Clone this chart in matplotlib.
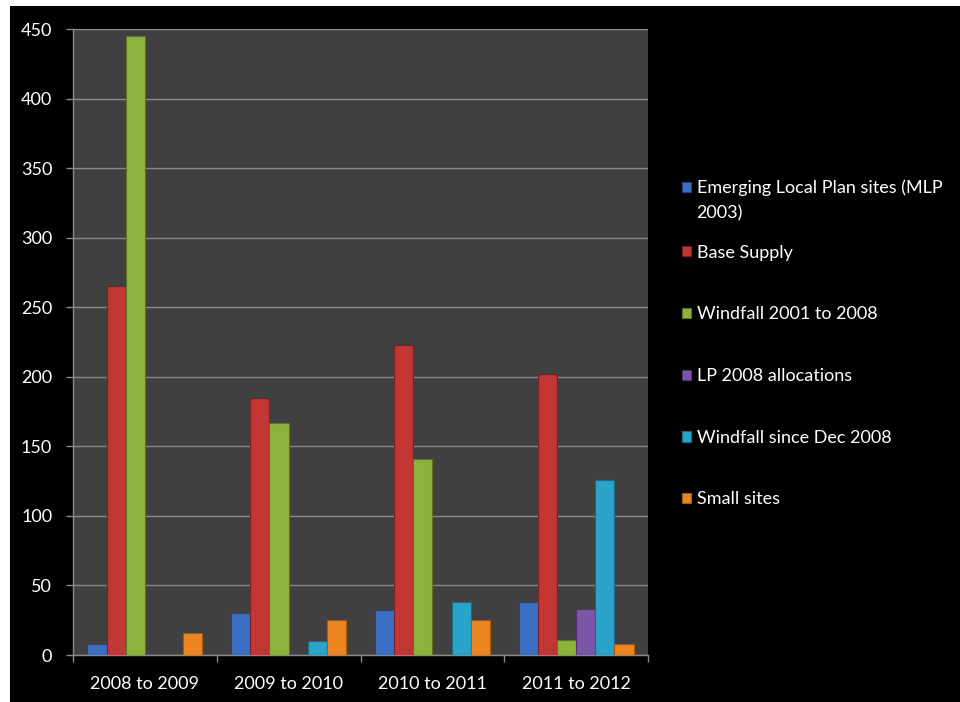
import matplotlib.pyplot as plt
from matplotlib.patches import Rectangle
import numpy as np

plt.rcParams['font.family'] = ['Lato', 'DejaVu Sans']

categories = ["2008 to 2009", "2009 to 2010", "2010 to 2011", "2011 to 2012"]
series_names = [
    "Emerging Local Plan sites (MLP\n2003)",
    "Base Supply",
    "Windfall 2001 to 2008",
    "LP 2008 allocations",
    "Windfall since Dec 2008",
    "Small sites",
]
emerging = [8, 30, 32, 38]
base_supply = [265, 185, 223, 202]
windfall_01_08 = [445, 167, 141, 11]
lp_2008 = [0, 0, 0, 33]
windfall_since_08 = [0, 10, 38, 126]
small_sites = [16, 25, 25, 8]
y_ticks = [0, 50, 100, 150, 200, 250, 300, 350, 400, 450]

series = [emerging, base_supply, windfall_01_08, lp_2008, windfall_since_08, small_sites]
colors = ["#3b6fc2", "#c23636", "#8cb33c", "#7b55a8", "#2aa3c8", "#ec8420"]
edges = ["#24477f", "#7e1f1f", "#5a7625", "#4f3570", "#1a6b84", "#a55a12"]


def main():
    fig = plt.figure(figsize=(9.6, 7.02), dpi=100, facecolor="black")
    # white strips on top and left, like the screenshot
    fig.patches.append(Rectangle((0, 0), 10 / 960, 1, transform=fig.transFigure,
                                 facecolor="white", edgecolor="none", zorder=-10))
    fig.patches.append(Rectangle((0, 1 - 6 / 702), 1, 6 / 702, transform=fig.transFigure,
                                 facecolor="white", edgecolor="none", zorder=-10))

    ax = fig.add_axes([73 / 960, 47 / 702, 575 / 960, 626 / 702])
    ax.set_facecolor("#404040")

    x = np.arange(len(categories))
    w = 1 / 7.5
    handles = []
    for i, (vals, c, e) in enumerate(zip(series, colors, edges)):
        offs = (i - 2.5) * w
        h = ax.bar(x + offs, vals, w, color=c, edgecolor=e, linewidth=0.8, zorder=3)
        handles.append(h)

    ax.set_xlim(-0.5, len(categories) - 0.5)
    ax.set_ylim(0, 450)
    ax.set_yticks(y_ticks)
    ax.grid(axis="y", color="#8a8a8a", linewidth=1.0, zorder=1)

    ax.set_xticks(x)
    ax.set_xticklabels(categories)
    ax.set_xticks(np.arange(len(categories) + 1) - 0.5, minor=True)
    ax.tick_params(axis="x", which="major", length=0, pad=15, labelsize=13, labelcolor="white")
    ax.tick_params(axis="x", which="minor", length=5, color="#8a8a8a", width=1)
    ax.tick_params(axis="y", length=5, color="#8a8a8a", width=1, pad=10,
                   labelsize=13, labelcolor="white")

    for s in ["top", "right"]:
        ax.spines[s].set_visible(False)
    for s in ["left", "bottom"]:
        ax.spines[s].set_color("#8a8a8a")
        ax.spines[s].set_linewidth(1)

    # legend: first (two-line) entry on its own, the rest evenly spaced below
    leg_kw = dict(loc="upper left", frameon=False, fontsize=13, labelcolor="white",
                  handlelength=0.5, handleheight=0.5, handletextpad=0.3)
    leg1 = fig.legend(handles[:1], series_names[:1],
                      bbox_to_anchor=(666 / 960, 1 - 163.5 / 702), **leg_kw)
    leg1.get_texts()[0].set_linespacing(1.68)
    h0 = leg1.legend_handles[0]
    h0.set_y(h0.get_y() + 10)
    fig.legend(handles[1:], series_names[1:],
               bbox_to_anchor=(666 / 960, 1 - 228.5 / 702),
               labelspacing=2.53, **leg_kw)

    fig.savefig("out.png", dpi=100, facecolor=fig.get_facecolor())


if __name__ == "__main__":
    main()
